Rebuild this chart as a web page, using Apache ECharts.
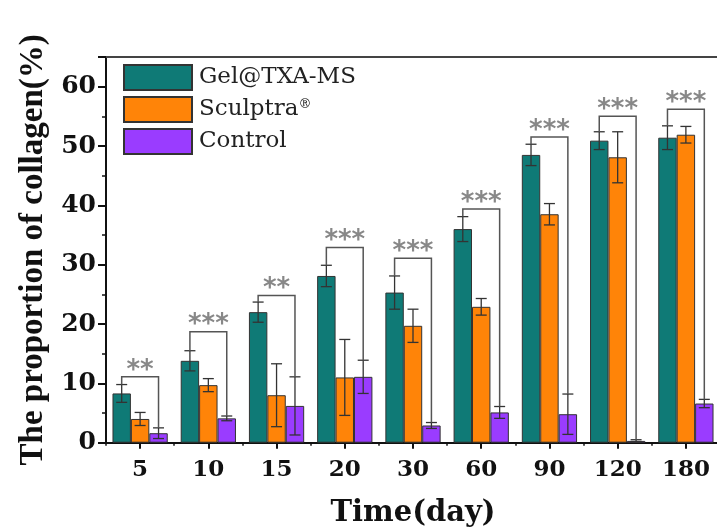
<!DOCTYPE html>
<html>
<head>
<meta charset="utf-8">
<script src="https://cdn.jsdelivr.net/npm/echarts@6/dist/echarts.min.js"></script>
<style>html,body{margin:0;padding:0;background:#fff}#c{width:717px;height:530px}</style>
</head>
<body>
<div id="c"></div>
<script>
const days = ['5','10','15','20','30','60','90','120','180'];
const seriesNames = ['Gel@TXA-MS','Sculptra®','Control'];
const gel = [8.3, 13.8, 22.0, 28.1, 25.3, 36.0, 48.5, 50.9, 51.4];
const gelErr = [1.5, 1.7, 1.7, 1.8, 2.8, 2.1, 1.8, 1.5, 2.0];
const sculptra = [4.0, 9.7, 8.0, 11.0, 19.7, 22.9, 38.5, 48.1, 51.9];
const sculptraErr = [1.1, 1.1, 5.3, 6.4, 2.8, 1.4, 1.8, 4.3, 1.4];
const control = [1.6, 4.1, 6.2, 11.1, 2.9, 5.1, 4.8, 0.3, 6.6];
const controlErr = [0.9, 0.4, 4.9, 2.8, 0.5, 1.0, 3.4, 0.2, 0.7];
const bracketLevel = [11.1, 18.7, 24.8, 32.9, 31.1, 39.4, 51.5, 55.0, 56.2];
const stars = ['**','***','**','***','***','***','***','***','***'];
const yTicks = [0, 10, 20, 30, 40, 50, 60];

const colors = ['#0f7a76', '#ff8408', '#9a3cff'];
const BAR_FRAC = 0.27;

const vals = [gel, sculptra, control];
const errs = [gelErr, sculptraErr, controlErr];
const errData = [];
for (let s = 0; s < 3; s++) {
  for (let i = 0; i < days.length; i++) errData.push([i, s, vals[s][i], errs[s][i]]);
}
const brData = days.map((d, i) => [i, bracketLevel[i], gel[i] + gelErr[i], control[i] + controlErr[i]]);

const chart = echarts.init(document.getElementById('c'), null, {renderer: 'canvas'});
const serif = 'DejaVu Serif';
const option = {
  animation: false,
  backgroundColor: '#fff',
  grid: {left: 106, top: 57, width: 614, height: 385.7, containLabel: false, outerBoundsMode: 'none'},
  legend: {
    orient: 'vertical', left: 118, top: 59,
    itemWidth: 68, itemHeight: 25, itemGap: 5,
    icon: 'rect',
    data: seriesNames,
    formatter: n => n.replace('®', '{sup|®}'),
    textStyle: {fontFamily: serif, fontSize: 23, color: '#222', padding: [0,0,0,2],
      rich: {sup: {fontSize: 13, verticalAlign: 'top', fontFamily: serif, color: '#222', padding:[0,0,10,0]}}}
  },
  xAxis: [
    {type: 'category', data: days, position: 'bottom',
     axisLine: {lineStyle: {color: '#111', width: 2}},
     axisTick: {show: true, alignWithLabel: true, length: 6, lineStyle: {color: '#111', width: 2}},
     axisLabel: {fontFamily: serif, fontWeight: 'bold', fontSize: 23, color: '#111', margin: 16},
     name: 'Time(day)', nameLocation: 'middle', nameGap: 56,
     nameTextStyle: {fontFamily: serif, fontWeight: 'bold', fontSize: 29, color: '#111'}},
    {type: 'category', data: days, position: 'bottom',
     axisLine: {show: false},
     axisTick: {show: true, alignWithLabel: false, length: 3, lineStyle: {color: '#111', width: 1.5}},
     axisLabel: {show: false}},
    {type: 'category', data: days, position: 'top',
     axisLine: {lineStyle: {color: '#444', width: 2}},
     axisTick: {show: false}, axisLabel: {show: false}}
  ],
  yAxis: [
    {type: 'value', min: 0, max: 65, interval: 10, position: 'left',
     axisLine: {show: true, lineStyle: {color: '#111', width: 2}},
     axisTick: {show: true, length: 8, lineStyle: {color: '#111', width: 2}},
     splitLine: {show: false},
     axisLabel: {formatter: v => (yTicks.indexOf(v) >= 0 ? String(v) : ''), fontFamily: serif, fontWeight: 'bold', fontSize: 25, color: '#111', margin: 10},
     name: 'The proportion of collagen(%)', nameLocation: 'middle', nameGap: 46,
     nameTextStyle: {fontFamily: 'Liberation Serif', fontWeight: 'bold', fontSize: 33, color: '#111'}},
    {type: 'value', min: 0, max: 65, interval: 5, position: 'left',
     axisLine: {show: false},
     axisTick: {show: true, length: 4, lineStyle: {color: '#111', width: 1.5}},
     splitLine: {show: false}, axisLabel: {show: false}}
  ],
  series: [
    ...seriesNames.map((n, s) => ({
      name: n, type: 'bar', data: vals[s], barWidth: (BAR_FRAC * 100) + '%', barGap: '0%',
      itemStyle: {color: colors[s], borderColor: '#333', borderWidth: 1}, z: 2
    })),
    {
      type: 'custom', name: 'err', data: errData, z: 5, silent: true,
      encode: {x: 0, y: 2},
      renderItem: (params, api) => {
        const ci = api.value(0), s = api.value(1), v = api.value(2), e = api.value(3);
        const bw = api.size([1, 0])[0] * BAR_FRAC;
        const c = api.coord([ci, v]);
        const x = c[0] + (s - 1) * bw;
        const yt = api.coord([ci, v + e])[1];
        const yb = api.coord([ci, Math.max(0, v - e)])[1];
        const hw = 5.5;
        const st = {stroke: '#333', lineWidth: 1.3};
        return {type: 'group', children: [
          {type: 'line', shape: {x1: x, y1: yt, x2: x, y2: yb}, style: st},
          {type: 'line', shape: {x1: x - hw, y1: yt, x2: x + hw, y2: yt}, style: st},
          {type: 'line', shape: {x1: x - hw, y1: yb, x2: x + hw, y2: yb}, style: st}
        ]};
      }
    },
    {
      type: 'custom', name: 'sig', data: brData, z: 6, silent: true,
      encode: {x: 0, y: 1},
      renderItem: (params, api) => {
        const ci = api.value(0), h = api.value(1), l = api.value(2), r = api.value(3);
        const bw = api.size([1, 0])[0] * BAR_FRAC;
        const c = api.coord([ci, h]);
        const xl = c[0] - bw, xr = c[0] + bw;
        const yl = api.coord([ci, l])[1], yr = api.coord([ci, r])[1];
        const st = {stroke: '#555', lineWidth: 1.5, fill: null};
        return {type: 'group', children: [
          {type: 'polyline', shape: {points: [[xl, yl], [xl, c[1]], [xr, c[1]], [xr, yr]]}, style: st},
          {type: 'text', style: {text: stars[params.dataIndex], x: c[0], y: c[1] - 6, align: 'center', verticalAlign: 'middle',
            fontFamily: 'DejaVu Sans', fontWeight: 'bold', fontSize: 26, fill: '#888'}}
        ]};
      }
    }
  ]
};
chart.setOption(option);
</script>
</body>
</html>
